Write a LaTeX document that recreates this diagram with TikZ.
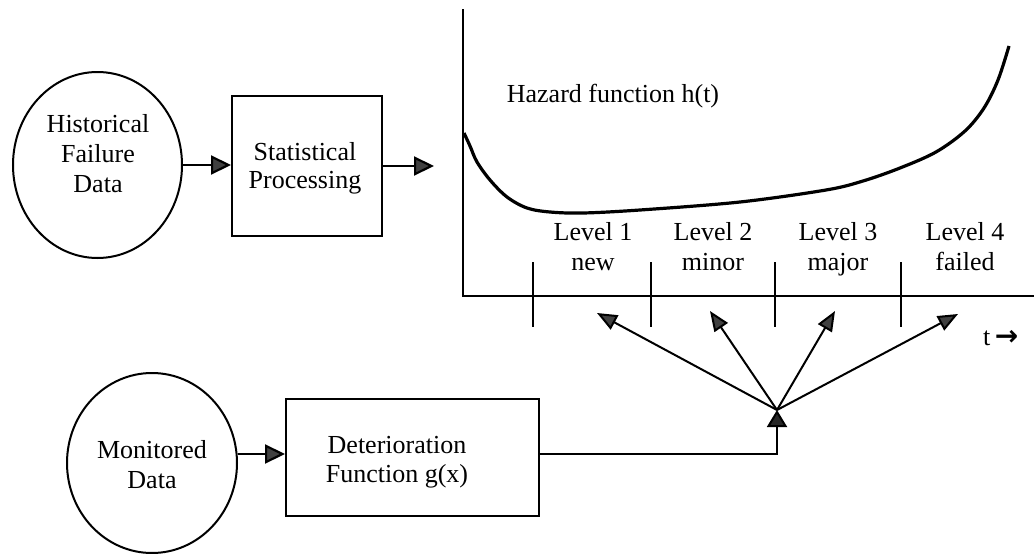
\documentclass[tikz,border=0pt]{standalone}
\usepackage{fontspec}
\setmainfont{Liberation Serif}
\newfontfamily\symfont{DejaVu Sans}
\usetikzlibrary{shapes.geometric,arrows.meta}
\tikzset{
  txt/.style={font=\fontsize{26}{30}\selectfont, align=center, inner sep=0pt, anchor=base},
  blob/.style={draw, line width=2pt, ellipse, inner sep=0pt},
  procbox/.style={draw, line width=2pt, rectangle, inner sep=0pt},
  flow/.style={line width=2.2pt, -{Triangle[length=20pt,width=19pt,fill=black!75]}},
  pointer/.style={line width=2pt, -{Triangle[length=20pt,width=16pt,fill=black!75]}},
  axis/.style={line width=2.6pt},
  tick/.style={line width=2pt},
}
\begin{document}
\begin{tikzpicture}[x=1pt,y=-1pt]
\useasboundingbox (0,0) rectangle (1034,554);

% upper chain: failure history -> statistics -> hazard plot
% (multi-line labels sit on the baseline of their last line)
\node[blob, minimum width=169pt, minimum height=186pt] (hist) at (97.5,165) {};
\node[txt] (histtxt) at (98,192) {Historical\\Failure\\Data};
\node[procbox, minimum width=150pt, minimum height=140pt] (stat) at (307,166) {};
\node[txt, font=\fontsize{26}{28}\selectfont] (stattxt) at (305,188) {Statistical\\Processing};
\coordinate (statout) at (434,166);
\draw[flow] (hist.east) -- (hist.east -| stat.west);
\draw[flow] (stat.east) -- (statout);

% axes of the hazard plot
\coordinate (origin) at (463,296);
\coordinate (ytop) at (463,9);
\coordinate (xend) at (1034,296);
\draw[axis] (ytop) -- (origin) -- (xend);

% bathtub hazard curve
\draw[line width=3.2pt, smooth, tension=0.55] plot coordinates {
  (464,133) (470,146) (477,162) (490,180) (507,197) (527,208) (550,212)
  (583,213) (640,210) (740,202) (826,190) (863,181) (900,168) (936,152)
  (965,131) (984,108) (998,80) (1009,46)};
\node[txt] (hazard) at (613,102) {Hazard function h(t)};

% level boundaries on the time axis
\foreach \x/\n in {533/a,651/b,775/c,901/d}{
  \coordinate (t\n top) at (\x,262);
  \coordinate (t\n bot) at (\x,327);
  \draw[tick] (t\n top) -- (t\n bot);
}
\node[txt] (lv1) at (593,270) {Level 1\\new};
\node[txt] (lv2) at (713,270) {Level 2\\minor};
\node[txt] (lv3) at (838,270) {Level 3\\major};
\node[txt] (lv4) at (965,270) {Level 4\\failed};
\node[txt, anchor=base west] (tlab) at (983,345) {t\,{\symfont\bfseries\fontsize{28}{30}\selectfont →}};

% lower chain: monitored data -> deterioration function -> levels
\coordinate (lane) at (0,454);
\node[blob, minimum width=170pt, minimum height=180pt] (mon) at (152,463) {};
\node[txt] (montxt) at (152,488) {Monitored\\Data};
\node[procbox, minimum width=253pt, minimum height=117pt] (det) at (412.5,457.5) {};
\node[txt, font=\fontsize{26}{29}\selectfont] (dettxt) at (397,482) {Deterioration\\Function g(x)};
\draw[flow] (mon.east |- lane) -- (det.west |- lane);

\coordinate (hub) at (777,410);
\draw[line width=2pt, -{Triangle[length=17pt,width=20pt,fill=black!85]}] (det.east |- lane) -| (hub);

\coordinate (p1) at (597,313);
\coordinate (p2) at (710,311);
\coordinate (p3) at (835,311);
\coordinate (p4) at (958,314);
\foreach \p in {p1,p2,p3,p4}
  \draw[pointer] (hub) -- (\p);
\end{tikzpicture}
\end{document}
